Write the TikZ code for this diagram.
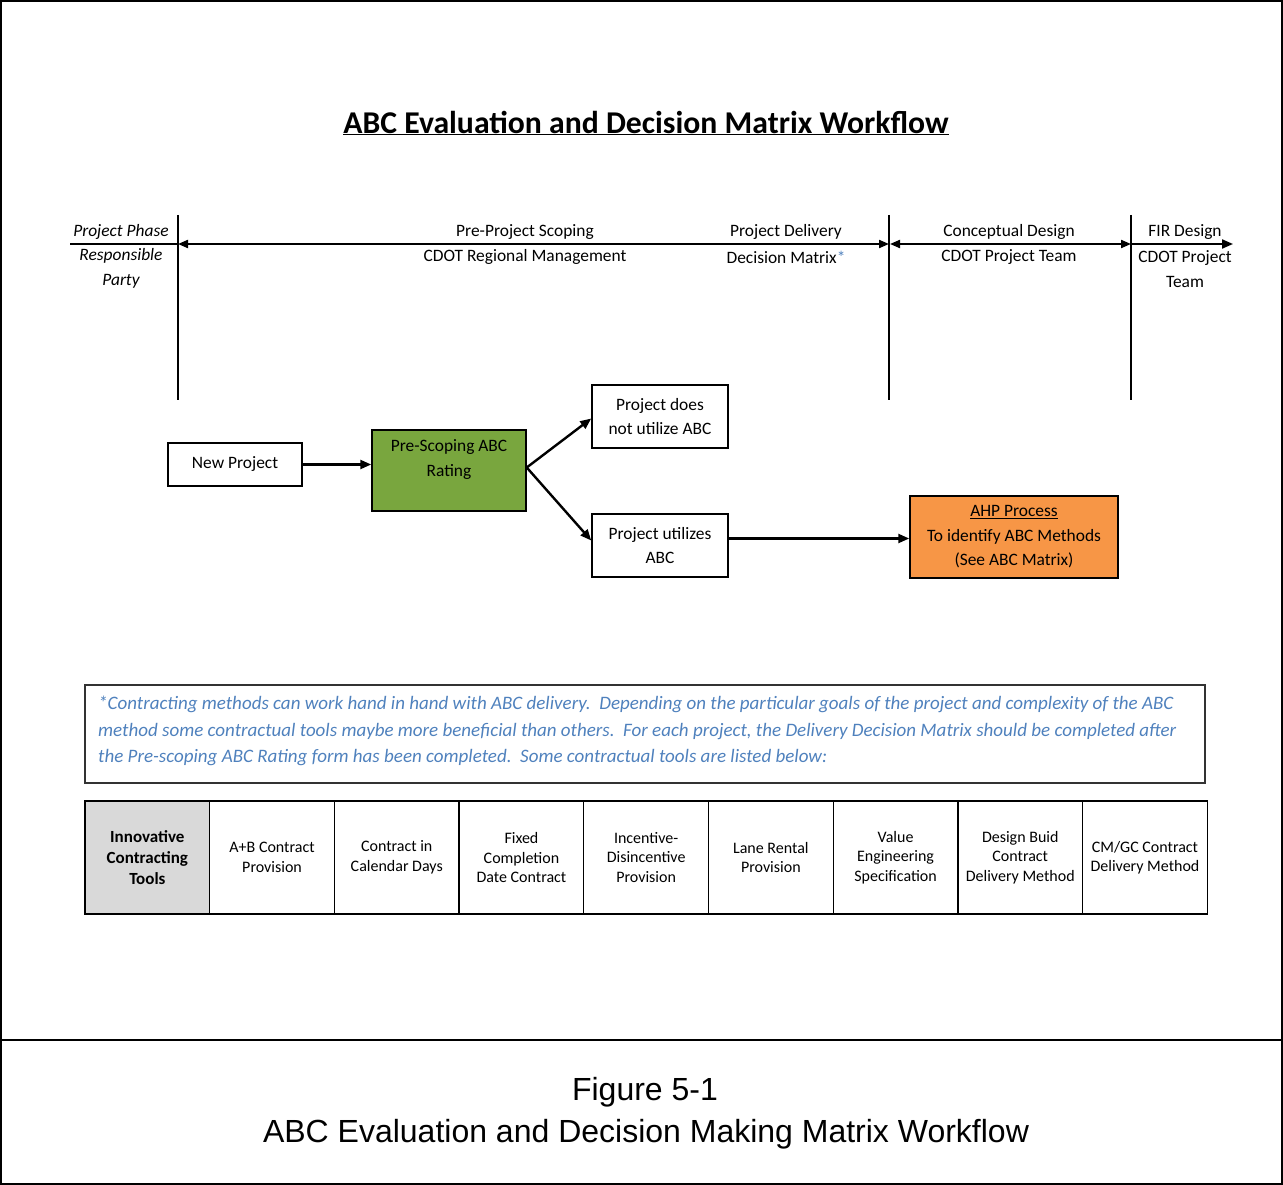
\documentclass[tikz,border=0pt]{standalone}
\usepackage{fontspec}
\setmainfont{Carlito}
\newfontfamily\arialf{Liberation Sans}
\usetikzlibrary{arrows.meta,calc}
\definecolor{greenbox}{HTML}{79A63E}
\definecolor{orangebox}{HTML}{F79646}
\definecolor{graycell}{HTML}{D9D9D9}
\definecolor{notetext}{HTML}{4F81BD}
\tikzset{
  lbl/.style={font=\fontsize{17.4}{24.5}\selectfont, align=center, inner sep=0pt},
  flowbox/.style={draw=black, line width=1.5pt, lbl},
  cell/.style={draw=black, line width=1.3pt, outer sep=0pt, minimum width=124.7pt, minimum height=113pt, inner sep=0pt, align=center, font=\fontsize{16}{19.5}\selectfont},
  tip/.style={-{Triangle[length=11pt,width=9pt]}},
  tips/.style={{Triangle[length=10pt,width=8pt]}-{Triangle[length=10pt,width=8pt]}},
  flow/.style={line width=2.4pt, tip},
  tl/.style={line width=2pt},
}
\begin{document}
\begin{tikzpicture}[x=1pt,y=-1pt]
\useasboundingbox (0,0) rectangle (1283,1185);
% frame
\draw[line width=1.5pt] (1,1) rectangle (1282,1184);
\coordinate (capL) at (1,1040);
\coordinate (capR) at (1282,1040);
\draw[line width=1.5pt] (capL) -- (capR);

% title
\node[font=\fontsize{31.7}{36}\selectfont\bfseries, inner sep=0pt] (title) at (646,123) {\underline{ABC Evaluation and Decision Matrix Workflow}};

% timeline
\coordinate (t0) at (70,244);
\coordinate (t1) at (178,244);
\coordinate (t2) at (889,244);
\coordinate (t3) at (1131,244);
\coordinate (t4) at (1233,244);
\coordinate (v1a) at (178,215); \coordinate (v1b) at (178,400);
\coordinate (v2a) at (889,215); \coordinate (v2b) at (889,400);
\coordinate (v3a) at (1131,215); \coordinate (v3b) at (1131,400);
\draw[tl] (v1a) -- (v1b);
\draw[tl] (v2a) -- (v2b);
\draw[tl] (v3a) -- (v3b);
\draw[tl] (t0) -- (t1);
\draw[tl, tips] (t1) -- (t2);
\draw[tl, tips] ([xshift=1pt]t2) -- (t3);
\draw[tl, tip] (t3) -- (t4);

\node[lbl, font=\fontsize{17.4}{24.5}\selectfont\itshape] (pp) at (121,232) {Project Phase};
\node[lbl, font=\fontsize{17.4}{24.5}\selectfont\itshape] (rp) at (121,268.5) {Responsible\\Party};
\node[lbl] (ps) at (525,232) {Pre-Project Scoping};
\node[lbl] (rm) at (525,257) {CDOT Regional Management};
\node[lbl] (pd) at (786,232) {Project Delivery};
\node[lbl] (dm) at (786,257) {Decision Matrix\textcolor{notetext}{*}};
\node[lbl] (cd) at (1009,232) {Conceptual Design};
\node[lbl] (pt) at (1009,257) {CDOT Project Team};
\node[lbl] (fd) at (1185,232) {FIR Design};
\node[lbl] (fp) at (1185,269) {CDOT Project\\Team};

% flow
\node[flowbox, minimum width=134pt, minimum height=43pt] (new) at (235,464.5) {New Project};
\node[flowbox, fill=greenbox, minimum width=154pt, minimum height=81pt] (pre) at (449,470.5) {};
\node[lbl] (prel) at (449,459.5) {Pre-Scoping ABC\\Rating};
\node[flowbox, minimum width=136pt, minimum height=63pt] (no) at (660,416.5) {Project does\\not utilize ABC};
\node[flowbox, minimum width=136pt, minimum height=63pt] (yes) at (660,545.5) {Project utilizes\\ABC};
\node[flowbox, fill=orangebox, minimum width=208pt, minimum height=82pt] (ahp) at (1014,537) {\underline{AHP Process}\\To identify ABC Methods\\(See ABC Matrix)};

\draw[flow] (new.east) -- (pre.west |- new.east);
\draw[flow] ([yshift=3pt]pre.east) -- ([yshift=-2pt]no.west);
\draw[flow] ([yshift=3pt]pre.east) -- ([yshift=5pt]yes.west);
\draw[flow] ([yshift=7pt]yes.east) -- ([yshift=7pt]ahp.west |- yes.east);

% note
\node[draw=black!80, line width=1.4pt, minimum width=1120pt, minimum height=98pt, inner sep=0pt] (notebox) at (645,734) {};
\node[anchor=west, align=left, inner sep=0pt, text=notetext, font=\fontsize{19}{26.5}\selectfont\itshape] (note) at (98,731)
{*Contracting methods can work hand in hand with ABC delivery.\ \ Depending on the particular goals of the project and complexity of the ABC\\
method some contractual tools maybe more beneficial than others.\ \ For each project, the Delivery Decision Matrix should be completed after\\
the Pre-scoping ABC Rating form has been completed.\ \ Some contractual tools are listed below:};

% table
\node[cell, fill=graycell, font=\fontsize{17}{21}\selectfont\bfseries] (c1) at (147.35,857.5) {Innovative\\Contracting\\Tools};
\node[cell, anchor=west] (c2) at (c1.east) {A+B Contract\\Provision};
\node[cell, anchor=west] (c3) at (c2.east) {Contract in\\Calendar Days};
\node[cell, anchor=west] (c4) at (c3.east) {Fixed\\Completion\\Date Contract};
\node[cell, anchor=west] (c5) at (c4.east) {Incentive-\\Disincentive\\Provision};
\node[cell, anchor=west] (c6) at (c5.east) {Lane Rental\\Provision};
\node[cell, anchor=west] (c7) at (c6.east) {Value\\Engineering\\Specification};
\node[cell, anchor=west] (c8) at (c7.east) {Design Buid\\Contract\\Delivery Method};
\node[cell, anchor=west] (c9) at (c8.east) {CM/GC Contract\\Delivery Method};

% caption
\node[font=\arialf\fontsize{32}{38}\selectfont, inner sep=0pt] (fig) at (645,1092) {Figure 5-1};
\node[font=\arialf\fontsize{32}{38}\selectfont, inner sep=0pt] (cap) at (646,1134) {ABC Evaluation and Decision Making Matrix Workflow};
\end{tikzpicture}
\end{document}
